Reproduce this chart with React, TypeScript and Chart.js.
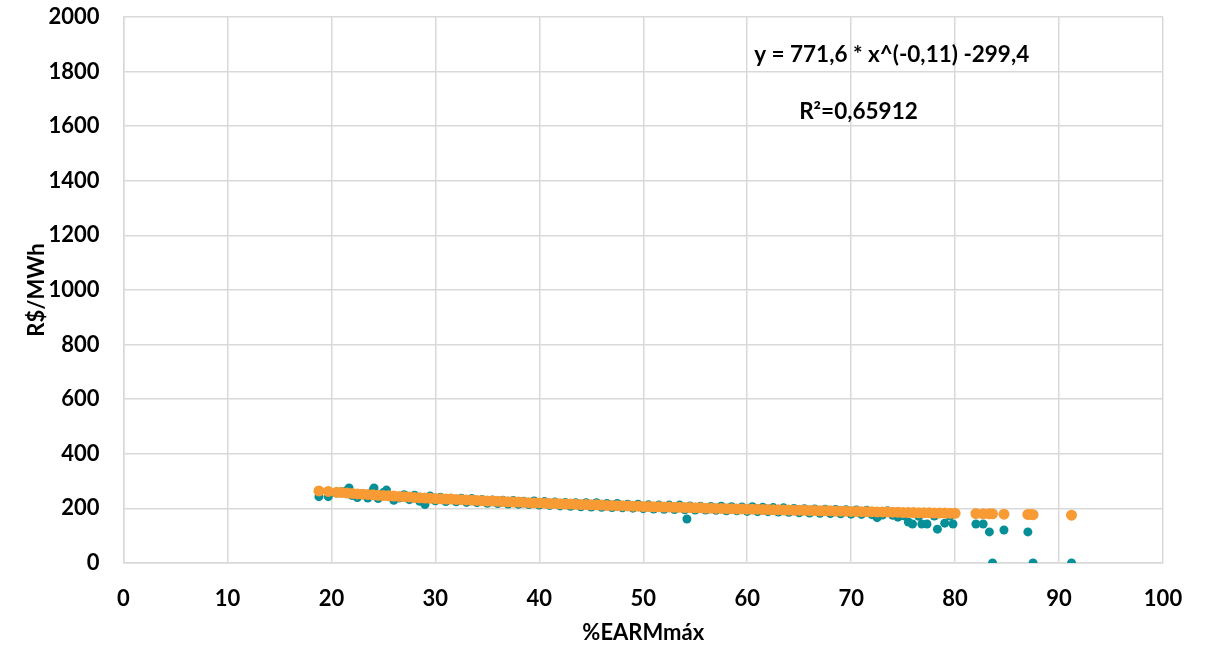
import React, { useEffect, useRef } from "react";
import { Chart, registerables } from "chart.js";

Chart.register(...registerables);

// x values (%EARMmáx) of the fitted curve points
const earmFit: number[] = [
  18.8, 19.7, 20.5, 21, 21.5, 22, 22.5, 23, 23.5, 24, 24.5, 25, 25.5, 26, 26.5, 27, 27.5, 28, 28.5, 29, 29.5,
  30, 30.5, 31, 31.5, 32, 32.5, 33, 33.5, 34, 34.5, 35, 35.5, 36, 36.5, 37, 37.5, 38, 38.5, 39, 39.5,
  40, 40.5, 41, 41.5, 42, 42.5, 43, 43.5, 44, 44.5, 45, 45.5, 46, 46.5, 47, 47.5, 48, 48.5, 49, 49.5,
  50, 50.5, 51, 51.5, 52, 52.5, 53, 53.5, 54, 54.5, 55, 55.5, 56, 56.5, 57, 57.5, 58, 58.5, 59, 59.5,
  60, 60.5, 61, 61.5, 62, 62.5, 63, 63.5, 64, 64.5, 65, 65.5, 66, 66.5, 67, 67.5, 68, 68.5, 69, 69.5,
  70, 70.5, 71, 71.5, 72, 72.5, 73, 73.5, 74, 74.5, 75, 75.5, 76, 76.5, 77, 77.5, 78, 78.5, 79, 79.5,
  80, 82.0, 82.7, 83.3, 83.6, 84.7, 87.0, 87.3, 87.5, 91.2,
];

// fitted price (R$/MWh), read from the orange points
const precoFit: number[] = [
  264, 262, 259, 258, 256, 255, 253, 252, 251, 250, 248, 247, 246, 245, 244, 243, 242, 240, 239, 238, 237,
  236, 235, 234, 234, 233, 232, 231, 230, 229, 228, 227, 227, 226, 225, 224, 223, 223, 222, 221, 220,
  220, 219, 218, 218, 217, 216, 216, 215, 214, 214, 213, 213, 212, 211, 211, 210, 210, 209, 208, 208,
  207, 207, 206, 206, 205, 205, 204, 204, 203, 203, 202, 202, 201, 201, 200, 200, 199, 199, 198, 198,
  197, 197, 197, 196, 196, 195, 195, 194, 194, 193, 193, 193, 192, 192, 191, 191, 191, 190, 190, 190,
  189, 189, 188, 188, 188, 187, 187, 187, 186, 186, 185, 185, 185, 184, 184, 184, 183, 183, 183, 182,
  182, 181, 180, 180, 180, 179, 178, 178, 177, 175,
];

// observed points (teal)
const earmObs: number[] = [
  18.8, 19.7, 20.5, 21, 21.5, 21.7, 22, 22.5, 23, 23.5, 24, 24.1, 24.5, 25, 25.3, 26, 26.5, 27, 27.5, 28, 28.5, 29, 29.5,
  30, 30.5, 31, 31.5, 32, 32.5, 33, 33.5, 34, 34.5, 35, 35.5, 36, 36.5, 37, 37.5, 38, 38.5, 39, 39.5,
  40, 40.5, 41, 41.5, 42, 42.5, 43, 43.5, 44, 44.5, 45, 45.5, 46, 46.5, 47, 47.5, 48, 48.5, 49, 49.5,
  50, 50.5, 51, 51.5, 52, 52.5, 53, 53.5, 54, 54.2, 54.5, 55, 55.5, 56, 56.5, 57, 57.5, 58, 58.5, 59, 59.5,
  60, 60.5, 61, 61.5, 62, 62.5, 63, 63.5, 64, 64.5, 65, 65.5, 66, 66.5, 67, 67.5, 68, 68.5, 69, 69.5,
  70, 70.5, 71, 71.5, 72, 72.5, 73, 73.5, 74, 74.5, 75, 75.5, 75.9, 76.5, 76.8, 77.3, 78, 78.3, 79, 79.5,
  79.8, 82.0, 82.7, 83.3, 83.6, 84.7, 87.0, 87.5, 91.2,
];

const precoObs: number[] = [
  243, 243, 256, 262, 266, 275, 247, 240, 255, 238, 266, 275, 236, 258, 267, 230, 238, 250, 232, 248, 226, 214, 245,
  228, 241, 225, 237, 224, 237, 222, 236, 221, 233, 219, 231, 218, 230, 216, 229, 215, 226, 214, 227,
  212, 225, 211, 223, 209, 222, 208, 221, 206, 221, 205, 221, 204, 218, 203, 218, 202, 215, 201, 215,
  199, 213, 198, 212, 197, 212, 196, 212, 195, 161, 209, 194, 208, 194, 207, 193, 208, 191, 206, 191, 205,
  189, 206, 188, 204, 188, 203, 187, 202, 186, 200, 184, 199, 183, 198, 182, 197, 181, 196, 180, 195,
  179, 194, 178, 193, 177, 166, 176, 191, 175, 168, 173, 150, 143, 171, 143, 143, 172, 124, 146, 172,
  143, 143, 143, 114, 0, 121, 114, 0, 0,
];

const xTicks: number[] = [0, 10, 20, 30, 40, 50, 60, 70, 80, 90, 100];
const yTicks: number[] = [0, 200, 400, 600, 800, 1000, 1200, 1400, 1600, 1800, 2000];

const equationText = "y = 771,6 * x^(-0,11) -299,4";
const r2Text = "R²=0,65912";

const FONT = "Lato, 'Open Sans', sans-serif";

export default function App() {
  const ref = useRef<HTMLCanvasElement | null>(null);

  useEffect(() => {
    document.body.style.margin = "0";
    const canvas = ref.current;
    if (!canvas) return;

    const annotations = {
      id: "annotations",
      afterDatasetsDraw(chart: any) {
        const { ctx, scales } = chart;
        ctx.save();
        ctx.fillStyle = "#000";
        ctx.font = `bold 22.5px ${FONT}`;
        ctx.textAlign = "center";
        ctx.textBaseline = "middle";
        ctx.fillText(equationText, scales.x.getPixelForValue(73.9), scales.y.getPixelForValue(1861));
        ctx.fillText(r2Text, scales.x.getPixelForValue(70.7), scales.y.getPixelForValue(1652));
        ctx.restore();
      },
    };

    const tickFont = { family: FONT, size: 22, weight: "bold" as const };

    const chart = new Chart(canvas, {
      type: "scatter",
      data: {
        datasets: [
          {
            label: "Ajuste",
            data: earmFit.map((x, i) => ({ x, y: precoFit[i] })),
            backgroundColor: "#F89B34",
            borderColor: "#F89B34",
            pointRadius: 5.5,
            borderWidth: 0,
            order: 0,
          },
          {
            label: "Observado",
            data: earmObs.map((x, i) => ({ x, y: precoObs[i] })),
            backgroundColor: "#078F98",
            borderColor: "#078F98",
            pointRadius: 4.5,
            borderWidth: 0,
            order: 1,
          },
        ],
      },
      options: {
        animation: false,
        responsive: true,
        maintainAspectRatio: false,
        layout: { padding: { left: 0, right: 50, top: 17, bottom: 0 } },
        plugins: { legend: { display: false }, tooltip: { enabled: false } },
        scales: {
          x: {
            type: "linear",
            min: 0,
            max: 100,
            afterBuildTicks: (s: any) => {
              s.ticks = xTicks.map((v) => ({ value: v }));
            },
            afterFit: (s: any) => {
              s.height = 84;
            },
            grid: { color: "#d9d9d9", lineWidth: 1.5, drawTicks: true, tickLength: 23, tickColor: "rgba(0,0,0,0)" },
            border: { color: "#d9d9d9", width: 1.5 },
            ticks: { color: "#000", font: tickFont, padding: 0, maxRotation: 0, callback: (v: any) => String(v) },
            title: {
              display: true,
              text: "%EARMmáx",
              color: "#000",
              font: tickFont,
              padding: { top: 0, bottom: 1 },
            },
          },
          y: {
            type: "linear",
            min: 0,
            max: 2000,
            afterBuildTicks: (s: any) => {
              s.ticks = yTicks.map((v) => ({ value: v }));
            },
            afterFit: (s: any) => {
              s.width = 123.5;
            },
            grid: { color: "#d9d9d9", lineWidth: 1.5, drawTicks: true, tickLength: 24, tickColor: "rgba(0,0,0,0)" },
            border: { color: "#d9d9d9", width: 1.5 },
            ticks: { color: "#000", font: tickFont, padding: 0, callback: (v: any) => String(v) },
            title: {
              display: true,
              text: "R$/MWh",
              color: "#000",
              font: tickFont,
              padding: { top: 24, bottom: 0 },
            },
          },
        },
      },
      plugins: [annotations],
    });
    return () => chart.destroy();
  }, []);

  return (
    <div style={{ position: "absolute", left: 0, top: 0, width: 1213, height: 647, background: "#fff" }}>
      <canvas ref={ref} />
    </div>
  );
}
